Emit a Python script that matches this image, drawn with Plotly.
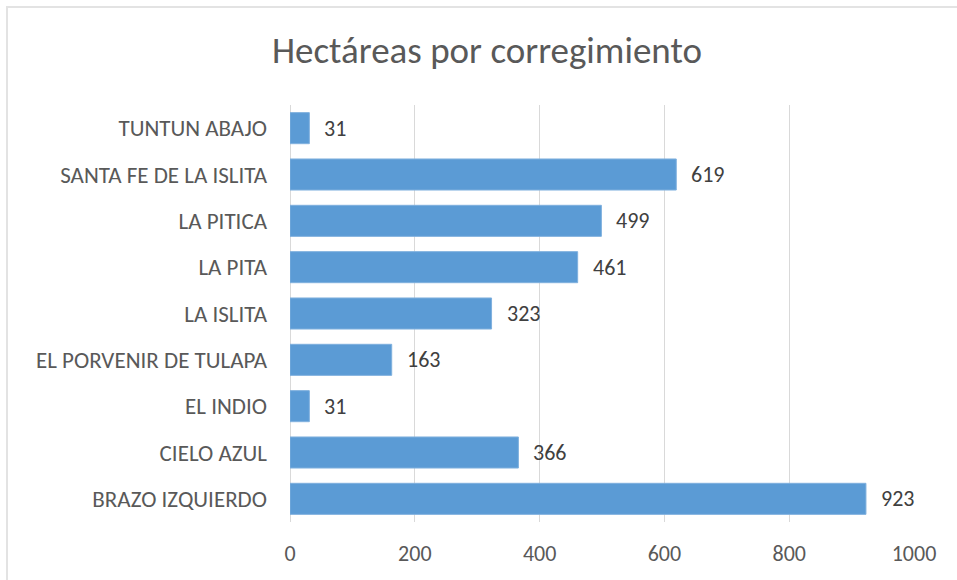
import plotly.graph_objects as go

categories = ["BRAZO IZQUIERDO", "CIELO AZUL", "EL INDIO", "EL PORVENIR DE TULAPA",
              "LA ISLITA", "LA PITA", "LA PITICA", "SANTA FE DE LA ISLITA", "TUNTUN ABAJO"]
values = [923, 366, 31, 163, 323, 461, 499, 619, 31]
tick_vals = [0, 200, 400, 600, 800, 1000]
title_text = "Hectáreas por corregimiento"

font_family = "Carlito, Calibri, Lato, Open Sans, sans-serif"

L, T, PW, PH = 290, 105, 624, 417
W, H = 957, 580

fig = go.Figure(go.Bar(
    x=values, y=categories, orientation="h",
    marker=dict(color="#5B9BD5", line=dict(color="#7FB0DE", width=1)),
    hoverinfo="x+y",
))

for c, v in zip(categories, values):
    fig.add_annotation(x=v, y=c, text=str(v), showarrow=False, xanchor="left",
                       xshift=13, font=dict(family=font_family, size=22, color="#404040"))

fig.add_shape(type="rect", xref="paper", yref="paper",
              x0=(7 - L) / PW, x1=1.5, y0=-0.5, y1=(T + PH - 7) / PH,
              line=dict(color="#E3E3E3", width=2), layer="below")

fig.update_layout(
    width=W, height=H,
    margin=dict(l=L, r=W - L - PW, t=T, b=H - T - PH, pad=0),
    paper_bgcolor="white", plot_bgcolor="white",
    bargap=0.33,
    showlegend=False,
    title=dict(text=title_text, x=487 / W, xref="container", xanchor="center",
               y=1 - 50 / H, yref="container", yanchor="middle",
               font=dict(family=font_family, size=37, color="#595959", weight=300)),
    xaxis=dict(range=[0, 1000], tickvals=tick_vals, showgrid=True, gridcolor="#D9D9D9",
               gridwidth=1, zeroline=True, zerolinecolor="#D9D9D9", zerolinewidth=1,
               showline=False, ticks="", ticklabelstandoff=16,
               tickfont=dict(family=font_family, size=22, color="#595959")),
    yaxis=dict(showgrid=False, showline=False, ticks="", ticklabelstandoff=22,
               tickfont=dict(family=font_family, size=23, color="#595959")),
)

fig.write_html("out.html", config={"displayModeBar": False},
               post_script="document.body.style.margin='0';")
